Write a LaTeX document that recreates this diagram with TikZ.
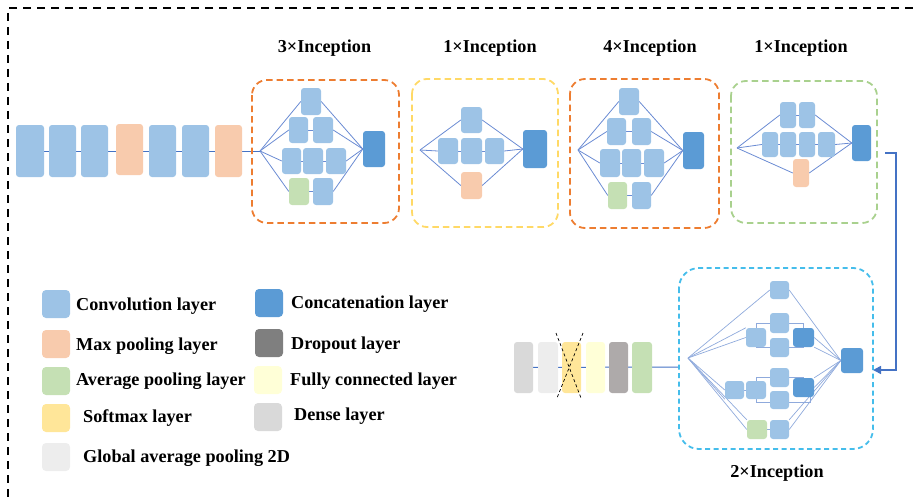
\documentclass[tikz,border=0pt]{standalone}
\usepackage{fontspec}
\setmainfont{Liberation Serif}
\usetikzlibrary{arrows.meta}

\definecolor{conv}{HTML}{9DC3E6}
\definecolor{maxp}{HTML}{F8CBAD}
\definecolor{avgp}{HTML}{C5E0B4}
\definecolor{concat}{HTML}{5B9BD5}
\definecolor{softm}{HTML}{FFE699}
\definecolor{fcl}{HTML}{FFFFD7}
\definecolor{dense}{HTML}{D9D9D9}
\definecolor{gapl}{HTML}{EDEDED}
\definecolor{dropkey}{HTML}{7F7F7F}
\definecolor{dropl}{HTML}{AEAAAA}
\definecolor{linkblue}{HTML}{4472C4}
\definecolor{wireblue}{HTML}{6A8BD3}
\definecolor{paleblue}{HTML}{8FAADC}
\definecolor{boxorange}{HTML}{ED7D31}
\definecolor{boxyellow}{HTML}{FFD966}
\definecolor{boxgreen}{HTML}{A9D18E}
\definecolor{boxcyan}{HTML}{45BDEB}

\pgfdeclarelayer{bg}
\pgfsetlayers{bg,main}

\newcommand\lblfont{\fontsize{18.2}{20}\selectfont\bfseries}

% layer block given by its corner coordinates (x1,y1) (x2,y2)
\newcommand\layerbox[6]{%
  \node[blk,fill=#2,minimum width={(#5-#3)*1pt},minimum height={(#6-#4)*1pt}]
    (#1) at ({(#3+#5)/2},{(#4+#6)/2}) {};}

\tikzset{
  blk/.style={rectangle,rounded corners=3pt,draw=none,inner sep=0pt},
  keybox/.style={rectangle,rounded corners=4pt,draw=none,inner sep=0pt,
    minimum width=28pt,minimum height=28pt},
  wire/.style={draw=wireblue,line width=0.8pt},
  thin wire/.style={draw=paleblue,line width=0.7pt},
  link/.style={draw=linkblue,line width=1.6pt},
  group/.style={line width=1.8pt,rounded corners=15pt,dash pattern=on 6.5pt off 4pt},
  title/.style={anchor=base,font=\lblfont,inner sep=0pt},
  keytext/.style={anchor=base west,font=\lblfont,inner sep=0pt},
}

\begin{document}
\begin{tikzpicture}[x=1pt,y=-1pt]
\useasboundingbox (0,0) rectangle (913,503);

% outer frame (top and left edges)
\draw[line width=1.6pt,dash pattern=on 8pt off 6pt] (913,8) -- (8,8) -- (8,503);

% ---------- stem ----------
\layerbox{s1}{conv}{16}{125}{44}{177}
\layerbox{s2}{conv}{49}{125}{76}{177}
\layerbox{s3}{conv}{81}{125}{108}{177}
\layerbox{s4}{maxp}{116}{124}{143}{175}
\layerbox{s5}{conv}{149}{125}{176}{177}
\layerbox{s6}{conv}{182}{125}{209}{177}
\layerbox{s7}{maxp}{215}{125}{242}{177}

% ---------- 3x Inception ----------
\draw[group,draw=boxorange] (252,80) rectangle (399,223);
\node[title] (tA) at (324.5,53) {3×Inception};
\coordinate (fA) at (260,151);
\layerbox{A1}{conv}{301}{88}{321}{115}
\layerbox{A21}{conv}{289}{117}{308}{143}
\layerbox{A22}{conv}{313}{117}{333}{143}
\layerbox{A31}{conv}{282}{148}{301}{174}
\layerbox{A32}{conv}{303}{148}{323}{174}
\layerbox{A33}{conv}{326}{148}{346}{174}
\layerbox{A41}{avgp}{289}{178}{309}{205}
\layerbox{A42}{conv}{313}{178}{333}{205}
\layerbox{Ac}{concat}{363}{131}{385}{167}

% ---------- 1x Inception ----------
\draw[group,draw=boxyellow] (412,79) rectangle (558,227);
\node[title] (tB) at (490,53) {1×Inception};
\coordinate (fB) at (420,150);
\layerbox{B1}{conv}{461}{107}{482}{133}
\layerbox{B21}{conv}{438}{138}{458}{164}
\layerbox{B22}{conv}{461}{138}{482}{164}
\layerbox{B23}{conv}{485}{138}{504}{164}
\layerbox{B3}{maxp}{461}{172}{482}{199}
\layerbox{Bc}{concat}{523}{130}{547}{168}

% ---------- 4x Inception ----------
\draw[group,draw=boxorange] (570,79) rectangle (719,228);
\node[title] (tC) at (650,53) {4×Inception};
\coordinate (fC) at (578,150);
\layerbox{C1}{conv}{619}{88}{639}{115}
\layerbox{C21}{conv}{607}{118}{626}{145}
\layerbox{C22}{conv}{632}{118}{651}{145}
\layerbox{C31}{conv}{600}{149}{620}{177}
\layerbox{C32}{conv}{622}{149}{641}{177}
\layerbox{C33}{conv}{644}{149}{664}{177}
\layerbox{C41}{avgp}{608}{182}{627}{209}
\layerbox{C42}{conv}{632}{182}{651}{209}
\layerbox{Cc}{concat}{683}{132}{704}{169}

% ---------- 1x Inception ----------
\draw[group,draw=boxgreen] (731,81) rectangle (877,223);
\node[title] (tD) at (801,53) {1×Inception};
\coordinate (fD) at (737,148);
\layerbox{D11}{conv}{780}{102}{796}{128}
\layerbox{D12}{conv}{799}{102}{815}{128}
\layerbox{D21}{conv}{762}{132}{778}{157}
\layerbox{D22}{conv}{780}{132}{796}{157}
\layerbox{D23}{conv}{799}{132}{815}{157}
\layerbox{D24}{conv}{818}{132}{835}{157}
\layerbox{D3}{maxp}{793}{159}{809}{187}
\layerbox{Dc}{concat}{852}{125}{871}{161}

% ---------- 2x Inception ----------
\draw[group,draw=boxcyan,rounded corners=20pt,dash pattern=on 5pt off 3.5pt] (679,268) rectangle (873,449);
\node[title] (tE) at (777,477) {2×Inception};
\coordinate (fE) at (688,358);
\layerbox{E1}{conv}{770}{281}{789}{299}
\layerbox{E2a}{conv}{746}{328}{766}{347}
\layerbox{E2u}{conv}{770}{313}{789}{333}
\layerbox{E2l}{conv}{770}{338}{789}{357}
\layerbox{E2d}{concat}{793}{328}{814}{347}
\layerbox{E3a}{conv}{725}{381}{744}{399}
\layerbox{E3b}{conv}{746}{381}{766}{399}
\layerbox{E3u}{conv}{770}{368}{789}{387}
\layerbox{E3l}{conv}{770}{391}{789}{409}
\layerbox{E3d}{concat}{793}{378}{814}{397}
\layerbox{E4g}{avgp}{747}{420}{767}{439}
\layerbox{E4b}{conv}{770}{420}{789}{439}
\layerbox{Ec}{concat}{841}{348}{863}{373}

% ---------- head ----------
\layerbox{F1}{dense}{514}{342}{533}{393}
\layerbox{F2}{gapl}{538}{342}{558}{393}
\layerbox{F3}{softm}{562}{342}{581}{393}
\layerbox{F4}{fcl}{586}{342}{605}{393}
\layerbox{F5}{dropl}{609}{342}{628}{393}
\layerbox{F6}{avgp}{632}{342}{652}{393}
\coordinate (eIn) at (679,367);
\coordinate (x1a) at (556,333);
\coordinate (x1b) at (581,398);
\coordinate (x2a) at (583,333);
\coordinate (x2b) at (557,398);
\draw[line width=0.7pt,dash pattern=on 3pt off 2.5pt] (x1a) -- (x1b) (x2a) -- (x2b);

% link from the last stem stage down to the 2x Inception group
\coordinate (outD) at (885,153);
\coordinate (turn) at (896,153);
\coordinate (inE) at (873,370);
\draw[link,-{Triangle[length=8pt,width=8pt]}] (outD) -- (turn) |- (inE);

% ---------- connectors ----------
\begin{pgfonlayer}{bg}
  \draw[link,line width=1pt] (s1.center) -- (fA);
  \foreach \n in {A1,A21,A31,A41} \draw[wire] (fA) -- (\n.west);
  \foreach \n in {A1,A22,A33,A42} \draw[wire] (\n.east) -- (Ac.west);
  \draw[wire] (A21) -- (A22) (A31) -- (A33) (A41) -- (A42);

  \foreach \n in {B1,B21,B3} \draw[wire] (fB) -- (\n.west);
  \foreach \n in {B1,B23,B3} \draw[wire] (\n.east) -- (Bc.west);
  \draw[wire] (B21) -- (B23);

  \foreach \n in {C1,C21,C31,C41} \draw[wire] (fC) -- (\n.west);
  \foreach \n in {C1,C22,C33,C42} \draw[wire] (\n.east) -- (Cc.west);
  \draw[wire] (C21) -- (C22) (C31) -- (C33) (C41) -- (C42);

  \foreach \n in {D11,D21,D3} \draw[wire] (fD) -- (\n.west);
  \foreach \n in {D12,D24,D3} \draw[wire] (\n.east) -- (Dc.west);
  \draw[wire] (D11) -- (D12) (D21) -- (D24);

  \foreach \n in {E1.west,E2a.west,E2a.north west,E3a.west,E3a.south west,E4g.west,E4g.north west}
    \draw[thin wire] (fE) -- (\n);
  \foreach \n in {E1.east,E2d.east,E2d.south east,E3d.east,E3d.north east,E4b.east,E4b.north east}
    \draw[thin wire] (\n) -- (Ec.west);
  \draw[thin wire] (E3a) -- (E3b) (E4g) -- (E4b);
  \draw[thin wire] (E2a.north) |- (E2u.west) (E2a.south) |- (E2l.west)
                   (E2u.east) -| (E2d.north) (E2l.east) -| (E2d.south);
  \draw[thin wire] (E3b.north) |- (E3u.west) (E3b.south) |- ([yshift=-2pt]E3l.west)
                   (E3u.east) -| (E3d.north) ([yshift=-2pt]E3l.east) -| ([xshift=7pt]E3d.south);

  \draw[link,line width=1pt] (F1.center) -- (eIn);
\end{pgfonlayer}

% ---------- key ----------
\node[keybox,fill=conv]   (k1) at (56,304) {};
\node[keytext] at (76,310) {Convolution layer};
\node[keybox,fill=maxp]   (k2) at (56,344) {};
\node[keytext] at (76,350) {Max pooling layer};
\node[keybox,fill=avgp]   (k3) at (56,381) {};
\node[keytext] at (76,385) {Average pooling layer};
\node[keybox,fill=softm]  (k4) at (56,418) {};
\node[keytext] at (83,422) {Softmax layer};
\node[keybox,fill=gapl]   (k5) at (56,457) {};
\node[keytext] at (83,462) {Global average pooling 2D};

\node[keybox,fill=concat] (k6) at (269,303) {};
\node[keytext] at (291,308) {Concatenation layer};
\node[keybox,fill=dropkey] (k7) at (269,343) {};
\node[keytext] at (291,349) {Dropout layer};
\node[keybox,fill=fcl]    (k8) at (268,380) {};
\node[keytext] at (290,385) {Fully connected layer};
\node[keybox,fill=dense]  (k9) at (268,417) {};
\node[keytext] at (294,420) {Dense layer};
\end{tikzpicture}
\end{document}
